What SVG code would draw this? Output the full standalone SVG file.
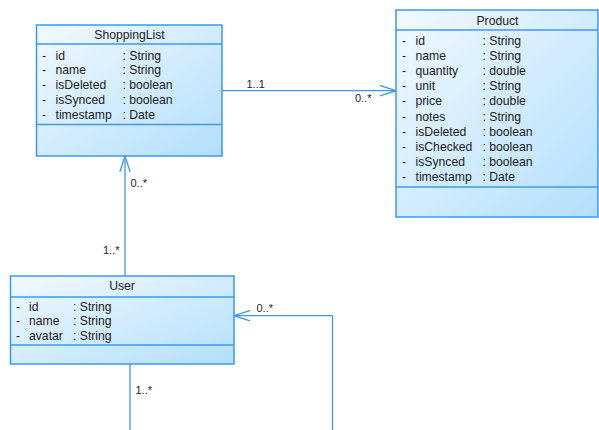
<svg xmlns="http://www.w3.org/2000/svg" width="599" height="430" viewBox="0 0 599 430">
<defs>
<linearGradient id="g" x1="0" y1="0" x2="1" y2="1">
<stop offset="0" stop-color="#f2f9ff"/>
<stop offset="1" stop-color="#b3dffb"/>
</linearGradient>
<marker id="open" viewBox="0 0 16 12" refX="16" refY="6" markerWidth="16" markerHeight="12" markerUnits="userSpaceOnUse" orient="auto">
<path d="M0,0.8 L16,6 L0,11.2" fill="none" stroke="#3c98f2" stroke-width="1.3"/>
</marker>
</defs>
<style>
.box{fill:url(#g);stroke:#3c98f2;stroke-width:1.5}
.div{stroke:#3c98f2;stroke-width:1.5}
.t{font-family:"Liberation Sans",Arial,sans-serif;font-size:12.2px;fill:#222}
.h{text-anchor:middle}
.lbl{font-family:"Liberation Sans",Arial,sans-serif;font-size:11px;fill:#222}
.c{fill:none;stroke:#3c98f2;stroke-width:1.3}
</style>
<rect width="599" height="430" fill="#fff"/>
<g id="ShoppingList">
<rect class="box" x="36.5" y="25" width="185.5" height="131"/>
<line class="div" x1="36.5" y1="44" x2="222" y2="44"/>
<line class="div" x1="36.5" y1="124.5" x2="222" y2="124.5"/>
<text class="t h" x="129.5" y="38.5">ShoppingList</text>
<g class="t">
<text x="42" y="59.5">-</text><text x="55.5" y="59.5">id</text><text x="122.5" y="59.5">: String</text>
<text x="42" y="74.3">-</text><text x="55.5" y="74.3">name</text><text x="122.5" y="74.3">: String</text>
<text x="42" y="89.1">-</text><text x="55.5" y="89.1">isDeleted</text><text x="122.5" y="89.1">: boolean</text>
<text x="42" y="103.9">-</text><text x="55.5" y="103.9">isSynced</text><text x="122.5" y="103.9">: boolean</text>
<text x="42" y="118.7">-</text><text x="55.5" y="118.7">timestamp</text><text x="122.5" y="118.7">: Date</text>
</g>
</g>
<g id="Product">
<rect class="box" x="396" y="10" width="202" height="207"/>
<line class="div" x1="396" y1="30" x2="598" y2="30"/>
<line class="div" x1="396" y1="187" x2="598" y2="187"/>
<text class="t h" x="497.5" y="24.5">Product</text>
<g class="t">
<text x="402" y="44.5">-</text><text x="415.5" y="44.5">id</text><text x="482.5" y="44.5">: String</text>
<text x="402" y="59.7">-</text><text x="415.5" y="59.7">name</text><text x="482.5" y="59.7">: String</text>
<text x="402" y="74.9">-</text><text x="415.5" y="74.9">quantity</text><text x="482.5" y="74.9">: double</text>
<text x="402" y="90.1">-</text><text x="415.5" y="90.1">unit</text><text x="482.5" y="90.1">: String</text>
<text x="402" y="105.3">-</text><text x="415.5" y="105.3">price</text><text x="482.5" y="105.3">: double</text>
<text x="402" y="120.5">-</text><text x="415.5" y="120.5">notes</text><text x="482.5" y="120.5">: String</text>
<text x="402" y="135.7">-</text><text x="415.5" y="135.7">isDeleted</text><text x="482.5" y="135.7">: boolean</text>
<text x="402" y="150.9">-</text><text x="415.5" y="150.9">isChecked</text><text x="482.5" y="150.9">: boolean</text>
<text x="402" y="166.1">-</text><text x="415.5" y="166.1">isSynced</text><text x="482.5" y="166.1">: boolean</text>
<text x="402" y="181.3">-</text><text x="415.5" y="181.3">timestamp</text><text x="482.5" y="181.3">: Date</text>
</g>
</g>
<g id="User">
<rect class="box" x="10.5" y="276" width="223.5" height="88"/>
<line class="div" x1="10.5" y1="297" x2="234" y2="297"/>
<line class="div" x1="10.5" y1="345" x2="234" y2="345"/>
<text class="t h" x="122" y="290">User</text>
<g class="t">
<text x="16" y="310.5">-</text><text x="29" y="310.5">id</text><text x="73" y="310.5">: String</text>
<text x="16" y="325.3">-</text><text x="29" y="325.3">name</text><text x="73" y="325.3">: String</text>
<text x="16" y="340">-</text><text x="29" y="340">avatar</text><text x="73" y="340">: String</text>
</g>
</g>
<g id="connectors">
<line class="c" x1="222" y1="90.7" x2="396" y2="90.7" marker-end="url(#open)"/>
<line class="c" x1="125" y1="276" x2="125" y2="156" marker-end="url(#open)"/>
<polyline class="c" points="130,364 130,430"/>
<polyline class="c" points="332.5,430 332.5,315.7 234,315.7" marker-end="url(#open)"/>
<text class="lbl" x="246.5" y="87.5">1..1</text>
<text class="lbl" x="355" y="101.5">0..*</text>
<text class="lbl" x="130.5" y="187">0..*</text>
<text class="lbl" x="103" y="253.5">1..*</text>
<text class="lbl" x="256.5" y="311.5">0..*</text>
<text class="lbl" x="135.5" y="393.5">1..*</text>
</g>
</svg>
